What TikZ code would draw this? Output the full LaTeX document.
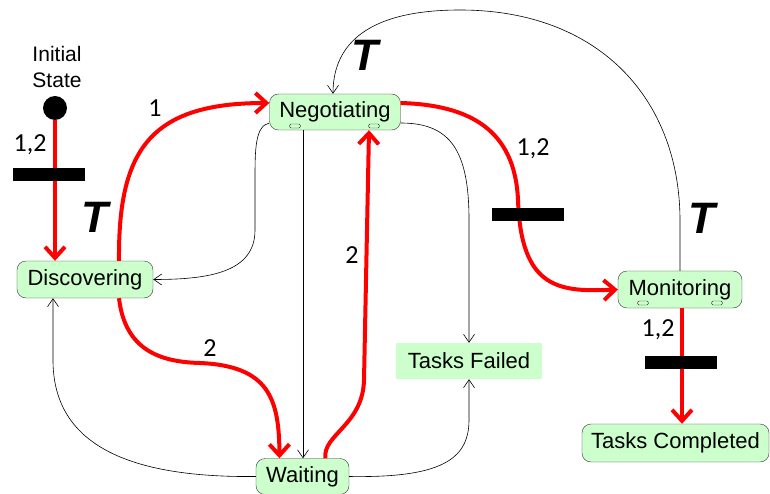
\documentclass[tikz,border=0pt]{standalone}
\usepackage{fontspec}
\setmainfont{Liberation Sans}
\newfontfamily\numfont{Carlito}
\usetikzlibrary{arrows.meta}
\definecolor{stategreen}{RGB}{204,255,204}

\begin{document}
\begin{tikzpicture}[x=1pt,y=-1pt,
    state/.style={draw=black!80,fill=stategreen,rounded corners=9pt,inner sep=0pt,
                  font=\fontsize{22}{26}\selectfont},
    marker/.style={draw=black!80,fill=stategreen,rounded corners=1.5pt,
                   minimum width=11pt,minimum height=4pt,inner sep=0pt},
    trans/.style={red,line width=4pt,-{Straight Barb[length=11pt,width=20pt]}},
    plain/.style={black,line width=0.6pt,-{Straight Barb[length=8pt,width=11pt]}},
    bar/.style={fill=black,minimum width=72pt,minimum height=13pt,inner sep=0pt},
    num/.style={font=\numfont\fontsize{26}{28}\selectfont},
    tlabel/.style={font=\fontsize{44}{44}\selectfont\bfseries\itshape}]
  \useasboundingbox (0,0) rectangle (770,494);

  % states
  \node[align=center,font=\fontsize{21}{26}\selectfont] (initlabel) at (57,67) {Initial\\State};
  \node[circle,fill=black,minimum size=24pt,inner sep=0pt] (dot) at (55,108) {};
  \node[state,minimum width=131pt,minimum height=36pt] (nego) at (335,112) {Negotiating};
  \node[state,minimum width=136pt,minimum height=37pt] (disc) at (85,279.5) {Discovering};
  \node[state,minimum width=124pt,minimum height=37pt] (mon) at (680,289.5) {Monitoring};
  \node[state,draw=none,rounded corners=0pt,minimum width=146pt,minimum height=36pt] (fail) at (469,361) {Tasks Failed};
  \node[state,minimum width=93pt,minimum height=36pt] (wait) at (302.5,476.5) {Waiting};
  \node[state,minimum width=187pt,minimum height=38pt] (done) at (675.5,443) {Tasks Completed};

  % sub-state markers
  \node[marker] (nm1) at (295,126) {};
  \node[marker] (nm2) at (374,126) {};
  \node[marker] (mm1) at (643,303) {};
  \node[marker] (mm2) at (717,303) {};

  % thin transitions
  \draw[plain] (mon.north) -- ++(0,-50) .. controls (680,100) and (600,10) .. (460,10)
        .. controls (360,10) and (333,50) .. ([xshift=-2pt]nego.north);
  \draw[plain] ([yshift=-11pt]nego.west) .. controls (255,126) and (255,150) .. (255,180)
        -- (255,230) .. controls (255,272) and (210,279.5) .. (disc.east);
  \draw[plain] ([xshift=-32pt]nego.south) -- ([xshift=-32pt]nego.south |- wait.north);
  \draw[plain] ([yshift=-11pt]nego.east) .. controls (450,123) and (469,150) .. (469,220) -- (fail.north);
  \draw[plain] (wait.west) .. controls (120,478) and (53,440) .. (53,360) -- ([xshift=-32pt]disc.south);
  \draw[plain] (wait.east) .. controls (440,478) and (469,460) .. (469,420) -- (fail.south);

  % timed transitions
  \draw[trans] (dot.south) -- (dot.south |- disc.north);
  \draw[trans] ([xshift=34pt]disc.north) .. controls (118,150) and (150,103) .. ([yshift=9pt]nego.west);
  \draw[trans] ([xshift=34pt]disc.south) .. controls (125,350) and (160,362) .. (200,363)
        .. controls (270,366) and (279,400) .. ([xshift=-23pt]wait.north);
  \draw[trans] ([xshift=23pt]wait.north) .. controls (322,435) and (363,425) .. (364,380)
        -- ([xshift=34pt]nego.south);
  \draw[trans] ([yshift=9pt]nego.east) .. controls (470,105) and (515,130) .. (518,200)
        .. controls (521,290) and (560,292) .. (mon.west);
  \draw[trans] ([xshift=2pt]mon.south) -- ([xshift=2pt]mon.south |- done.north);

  % bars
  \node[bar] (bar1) at (49,175) {};
  \node[bar] (bar2) at (528,215) {};
  \node[bar] (bar3) at (681,362) {};

  % labels
  \node[num] (l1) at (30,145) {1,2};
  \node[num] (l2) at (155,108) {1};
  \node[num] (l3) at (533,149) {1,2};
  \node[num] (l4) at (352,255) {2};
  \node[num] (l5) at (210,348) {2};
  \node[num] (l6) at (658,330) {1,2};
  \node[tlabel] (t1) at (95,217) {T};
  \node[tlabel] (t2) at (365,55) {T};
  \node[tlabel] (t3) at (702,218) {T};
\end{tikzpicture}
\end{document}
